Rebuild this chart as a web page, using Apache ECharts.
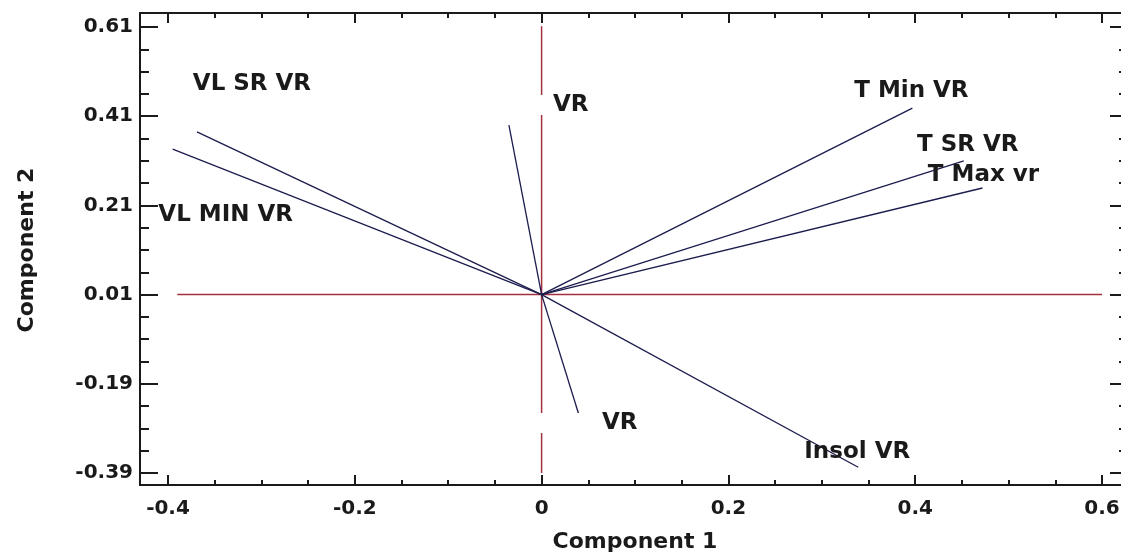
<!DOCTYPE html>
<html>
<head>
<meta charset="utf-8">
<script src="https://cdn.jsdelivr.net/npm/echarts@6/dist/echarts.min.js"></script>
<style>
  html, body { margin: 0; padding: 0; background: #ffffff; }
  #chart { width: 1121px; height: 555px; }
</style>
</head>
<body>
<div id="chart"></div>
<script>
// Loadings of each variable on the first two principal components
const variableNames = ['VL SR VR', 'VL MIN VR', 'VR', 'T Min VR', 'T SR VR', 'T Max vr', 'VR', 'Insol VR'];
const component1 = [-0.369, -0.395, -0.035, 0.397, 0.452, 0.472, 0.040, 0.339];
const component2 = [0.375, 0.336, 0.390, 0.428, 0.310, 0.249, -0.260, -0.377];

// Common start point of all loading vectors
const originPoint = [0, 0.01];

// Reference cross drawn through the origin
const crossHorizontalX = [-0.39, 0.6];
const crossVerticalY = [-0.39, 0.62];

// Axis scales
const xScale = { min: -0.4, max: 0.6, step: 0.2 };
const yScale = { min: -0.39, max: 0.61, step: 0.2 };
const xAxisTitle = 'Component 1';
const yAxisTitle = 'Component 2';

// Where each name sits relative to its vector tip (pixels)
const labelPlacement = [
  { offset: [55, -48] },
  { offset: [53, 66] },
  { offset: [29, -20], align: 'left', padLeft: 15, cover: true },
  { offset: [-1, -17] },
  { offset: [4, -16] },
  { offset: [1, -13] },
  { offset: [-41, 8], align: 'left', padLeft: 64, cover: true },
  { offset: [-1, -15] }
];

const FONT = 'DejaVu Sans';
const INK = '#1a1a1a';
const VECTOR_COLOR = '#1c1c4e';
const CROSS_COLOR = '#a3303e';

const chart = echarts.init(document.getElementById('chart'), null, { renderer: 'canvas' });

function tickAxis(kind, position, offset, withLabels, majorLen, minorLen, extra) {
  const s = kind === 'x' ? xScale : yScale;
  return Object.assign({
    gridIndex: 0,
    type: 'value',
    position: position,
    offset: offset,
    min: s.min,
    max: s.max,
    interval: s.step,
    axisLine: { show: false, onZero: false },
    axisTick: { show: true, inside: true, length: majorLen, lineStyle: { color: INK, width: 2 } },
    minorTick: { show: true, splitNumber: 4, length: minorLen, lineStyle: { color: INK, width: 2 } },
    splitLine: { show: false },
    minorSplitLine: { show: false },
    axisLabel: {
      show: withLabels,
      color: INK,
      fontFamily: FONT,
      fontWeight: 'bold',
      fontSize: 20,
      margin: kind === 'x' ? 14 : 7
    }
  }, extra || {});
}

const axisNameStyle = { color: INK, fontFamily: FONT, fontWeight: 'bold', fontSize: 22 };

const series = [];

// Reference cross
series.push({
  type: 'line', xAxisIndex: 0, yAxisIndex: 0, silent: true, showSymbol: false, z: 1,
  data: [[crossHorizontalX[0], originPoint[1]], [crossHorizontalX[1], originPoint[1]]],
  lineStyle: { color: CROSS_COLOR, width: 1.5 }
});
series.push({
  type: 'line', xAxisIndex: 0, yAxisIndex: 0, silent: true, showSymbol: false, z: 1,
  data: [[originPoint[0], crossVerticalY[0]], [originPoint[0], crossVerticalY[1]]],
  lineStyle: { color: CROSS_COLOR, width: 1.5 }
});

// Loading vectors
variableNames.forEach(function (name, i) {
  series.push({
    type: 'line', name: name, xAxisIndex: 0, yAxisIndex: 0, silent: true, showSymbol: false, z: 2,
    data: [originPoint.slice(), [component1[i], component2[i]]],
    lineStyle: { color: VECTOR_COLOR, width: 1.3 }
  });
});

// Variable names at the vector tips
series.push({
  type: 'scatter', xAxisIndex: 0, yAxisIndex: 0, silent: true, z: 3,
  symbolSize: 1,
  itemStyle: { color: 'rgba(0,0,0,0)', opacity: 1 },
  data: variableNames.map(function (name, i) {
    const p = labelPlacement[i];
    const label = {
      show: true,
      formatter: name,
      position: 'inside',
      offset: p.offset,
      color: INK,
      opacity: 1,
      textBorderWidth: 0,
      fontFamily: FONT,
      fontWeight: 'bold',
      fontSize: 23
    };
    if (p.align) label.align = p.align;
    if (p.cover) {
      label.backgroundColor = '#ffffff';
      label.padding = [0, 2, 0, p.padLeft];
      label.lineHeight = 20;
    }
    return { value: [component1[i], component2[i]], label: label };
  })
});

chart.setOption({
  animation: false,
  backgroundColor: '#ffffff',
  grid: [
    { left: 168, right: 19, top: 27, bottom: 82, containLabel: false, outerBoundsMode: 'none' },
    { left: 140, width: 988, top: 13, bottom: 70, outerBoundsMode: 'none',
      show: true, borderColor: INK, borderWidth: 2, backgroundColor: 'transparent' }
  ],
  xAxis: [
    tickAxis('x', 'bottom', 12, true, 10, 5, {
      name: xAxisTitle, nameLocation: 'middle', nameGap: 46, nameTextStyle: axisNameStyle
    }),
    tickAxis('x', 'top', 14, false, 10, 5),
    { gridIndex: 1, type: 'value', show: false, min: 0, max: 1 }
  ],
  yAxis: [
    tickAxis('y', 'left', 28, true, 18, 9, {
      name: yAxisTitle, nameLocation: 'middle', nameRotate: 90, nameGap: 102, nameTextStyle: axisNameStyle
    }),
    tickAxis('y', 'right', 26, false, 18, 9),
    { gridIndex: 1, type: 'value', show: false, min: 0, max: 1 }
  ],
  series: series
});
</script>
</body>
</html>
